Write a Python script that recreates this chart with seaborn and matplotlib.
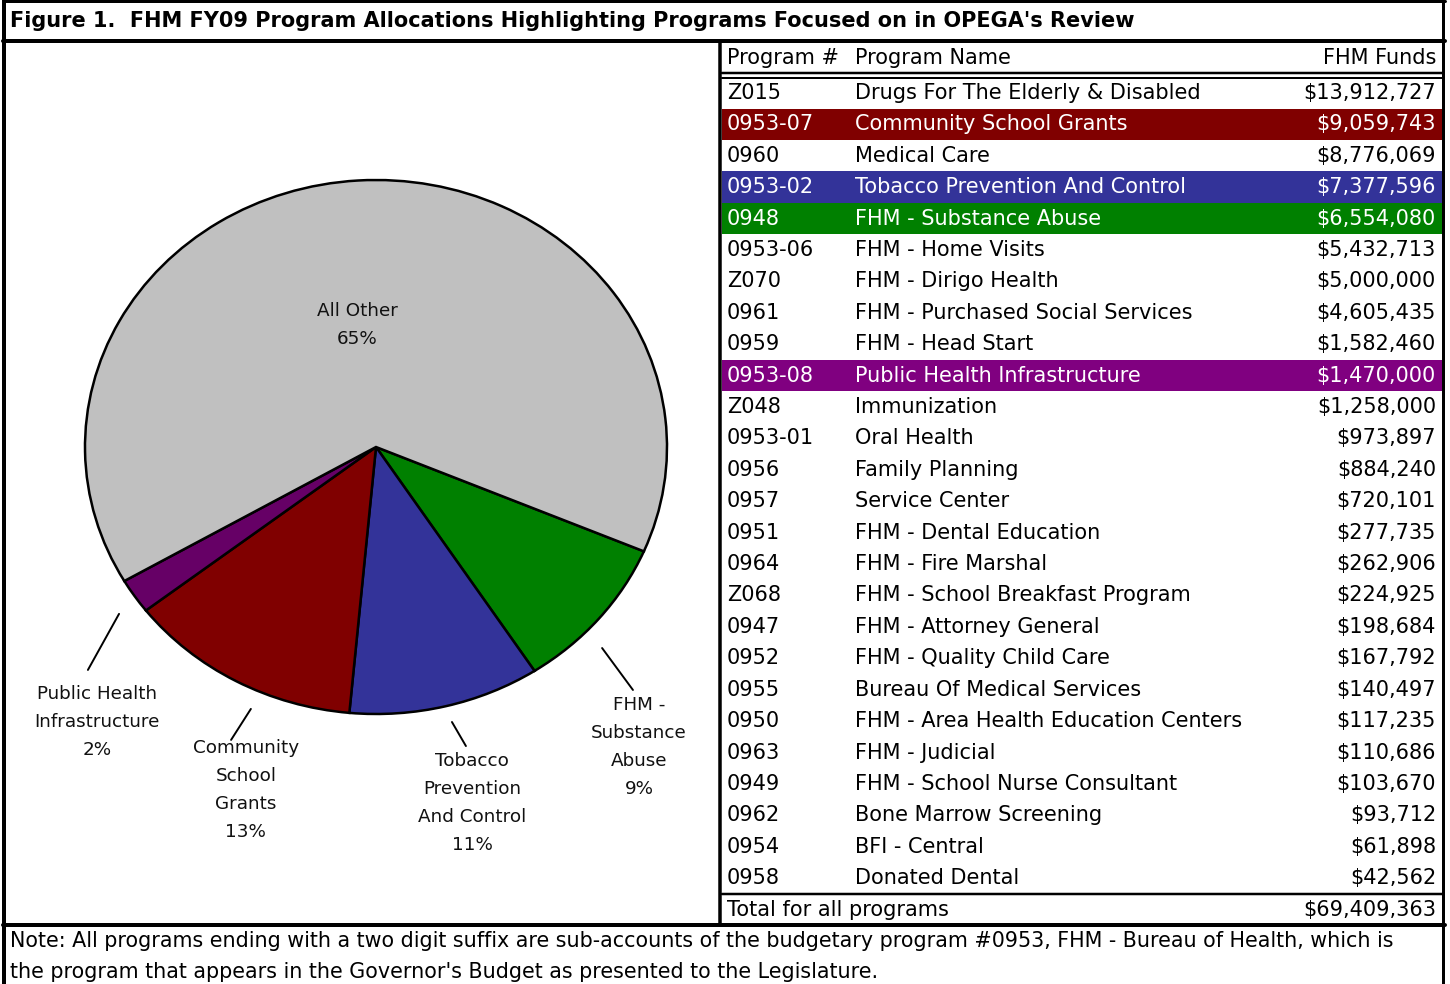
import matplotlib
matplotlib.use("Agg")
import matplotlib.pyplot as plt
import seaborn as sns

sns.set_theme(style="white")
plt.rcParams['font.family'] = ['DejaVu Sans']
plt.rcParams['text.color'] = 'black'

# table data
prog_ids = ["Z015", "0953-07", "0960", "0953-02", "0948", "0953-06", "Z070", "0961",
            "0959", "0953-08", "Z048", "0953-01", "0956", "0957", "0951", "0964",
            "Z068", "0947", "0952", "0955", "0950", "0963", "0949", "0962", "0954", "0958"]
prog_names = ["Drugs For The Elderly & Disabled", "Community School Grants", "Medical Care",
              "Tobacco Prevention And Control", "FHM - Substance Abuse", "FHM - Home Visits",
              "FHM - Dirigo Health", "FHM - Purchased Social Services", "FHM - Head Start",
              "Public Health Infrastructure", "Immunization", "Oral Health", "Family Planning",
              "Service Center", "FHM - Dental Education", "FHM - Fire Marshal",
              "FHM - School Breakfast Program", "FHM - Attorney General",
              "FHM - Quality Child Care", "Bureau Of Medical Services",
              "FHM - Area Health Education Centers", "FHM - Judicial",
              "FHM - School Nurse Consultant", "Bone Marrow Screening", "BFI - Central",
              "Donated Dental"]
funds = [13912727, 9059743, 8776069, 7377596, 6554080, 5432713, 5000000, 4605435,
         1582460, 1470000, 1258000, 973897, 884240, 720101, 277735, 262906,
         224925, 198684, 167792, 140497, 117235, 110686, 103670, 93712, 61898, 42562]

# highlighted programs (pie slices), in clockwise order
pie_ids = ["0948", "0953-02", "0953-07", "0953-08"]
pie_labels = ["FHM -\nSubstance\nAbuse", "Tobacco\nPrevention\nAnd Control",
              "Community\nSchool\nGrants", "Public Health\nInfrastructure", "All Other"]
pie_colors = ["#008000", "#333399", "#800000", "#660066", "#C0C0C0"]
row_colors = {"0953-07": "#800000", "0953-02": "#333399", "0948": "#008000", "0953-08": "#800080"}

total = sum(funds)
pie_vals = [funds[prog_ids.index(p)] for p in pie_ids]
pie_vals.append(total - sum(pie_vals))

W, H = 1450, 984
fig = plt.figure(figsize=(W / 100, H / 100), dpi=100)

# ---- pie (elliptical) ----
axp = fig.add_axes([85 / W, (H - 714) / H, 582 / W, 534 / H])
axp.pie(pie_vals, colors=pie_colors, startangle=-23, counterclock=False,
        wedgeprops=dict(edgecolor="black", linewidth=1.8))
axp.set_aspect("auto")
axp.set_xlim(-1, 1)
axp.set_ylim(-1, 1)
axp.axis("off")

label_pos = [(0.904, -1.124), (0.330, -1.333), (-0.447, -1.285), (-0.959, -1.030), (-0.065, 0.457)]
leaders = [((0.777, 0.883), (-0.753, -0.910)), ((0.261, 0.309), (-1.030, -1.120)),
           ((-0.430, -0.498), (-0.981, -1.097)), ((-0.883, -0.990), (-0.625, -0.835)), None]
for lab, v, (lx, ly), ld in zip(pie_labels, pie_vals, label_pos, leaders):
    axp.text(lx, ly, f"{lab}\n{round(100 * v / total)}%", ha="center", va="center",
             fontsize=13.2, linespacing=1.7, color="#111111", clip_on=False)
    if ld is not None:
        axp.plot(ld[0], ld[1], color="black", lw=1.4, clip_on=False)

# ---- table ----
axt = fig.add_axes([722 / W, (H - 924) / H, 720 / W, 881 / H])
axt.set_xlim(0, 720)
axt.set_ylim(26.46, -1.59)
axt.axis("off")
rows = list(range(len(prog_ids)))
band_rows = [i for i, p in enumerate(prog_ids) if p in row_colors]
axt.barh(band_rows, [720] * len(band_rows), height=1.0, left=0,
         color=[row_colors[prog_ids[i]] for i in band_rows], edgecolor="none")

fs = 15
axt.text(5, -1.11, "Program #", va="center", fontsize=fs)
axt.text(133, -1.11, "Program Name", va="center", fontsize=fs)
axt.text(714, -1.11, "FHM Funds", va="center", ha="right", fontsize=fs)
for i, (pid, nm, f) in zip(rows, zip(prog_ids, prog_names, funds)):
    c = "white" if pid in row_colors else "black"
    axt.text(5, i, pid, va="center", fontsize=fs, color=c)
    axt.text(133, i, nm, va="center", fontsize=fs, color=c)
    axt.text(714, i, f"${f:,}", va="center", ha="right", fontsize=fs, color=c)
axt.text(5, 26, "Total for all programs", va="center", fontsize=fs)
axt.text(714, 26, f"${total:,}", va="center", ha="right", fontsize=fs)

# ---- frame, title, note ----
axf = fig.add_axes([0, 0, 1, 1], zorder=5)
axf.set_xlim(0, W)
axf.set_ylim(H, 0)
axf.axis("off")
axf.patch.set_alpha(0)
k = 0.72
axf.plot([4.5, 4.5], [0, H], color="black", lw=4 * k)
axf.plot([1443.5, 1443.5], [0, H], color="black", lw=3 * k)
axf.plot([3, 1445], [1.2, 1.2], color="black", lw=3 * k)
axf.plot([3, 1445], [41, 41], color="black", lw=4 * k)
axf.plot([720.5, 720.5], [41, 925], color="black", lw=3.5 * k)
axf.plot([722, 1442], [73, 73], color="black", lw=2.5 * k)
axf.plot([722, 1442], [77.5, 77.5], color="black", lw=2 * k)
axf.plot([722, 1442], [893.5, 893.5], color="black", lw=2.5 * k)
axf.plot([3, 1445], [924.5, 924.5], color="black", lw=4 * k)

axf.text(10, 21, "Figure 1.  FHM FY09 Program Allocations Highlighting Programs Focused on in OPEGA's Review",
         va="center", fontsize=15, fontweight="bold")
axf.text(10, 941, "Note: All programs ending with a two digit suffix are sub-accounts of the budgetary "
         "program #0953, FHM - Bureau of Health, which is", va="center", fontsize=14.9)
axf.text(10, 972, "the program that appears in the Governor's Budget as presented to the Legislature.",
         va="center", fontsize=14.9)

fig.savefig("out.png", dpi=100)
